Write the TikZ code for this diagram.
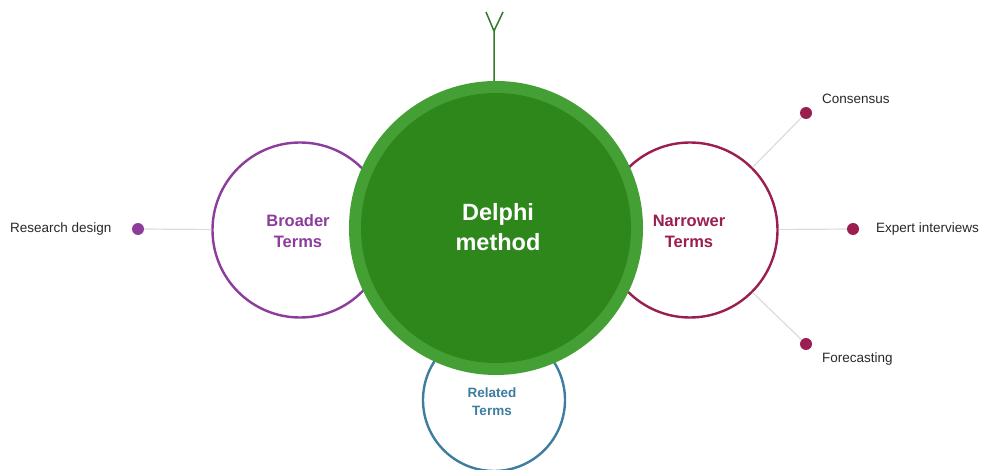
\documentclass[tikz,border=0pt]{standalone}
\usepackage{fontspec}
\setmainfont{Liberation Sans}
\definecolor{gout}{RGB}{68,160,52}
\definecolor{gin}{RGB}{46,135,27}
\definecolor{antc}{RGB}{50,120,45}
\definecolor{purp}{RGB}{140,60,155}
\definecolor{crim}{RGB}{155,30,80}
\definecolor{blu}{RGB}{60,125,160}
\definecolor{conn}{RGB}{220,220,220}
\definecolor{lbl}{RGB}{40,40,40}
\begin{document}
\begin{tikzpicture}[x=1pt,y=-1pt,
  ring/.style={circle,draw,line width=2.4pt,fill=white,align=center,font=\bfseries,inner sep=0pt},
  dot/.style={circle,inner sep=0pt,minimum size=12pt},
  lab/.style={text=lbl,font=\fontsize{13.5}{16}\selectfont,inner sep=0pt},
  link/.style={draw=conn,line width=1.2pt}]
\useasboundingbox (0,0) rectangle (983,470);
% dots
\node[dot,fill=purp] (rd) at (138,229) {};
\node[dot,fill=crim] (cons) at (806,113) {};
\node[dot,fill=crim] (exp) at (853,229) {};
\node[dot,fill=crim] (fore) at (806,344) {};
% labels
\node[lab,anchor=west] (rdl) at (10,229) {Research design};
\node[lab,anchor=west] (consl) at (822,99) {Consensus};
\node[lab,anchor=west] (expl) at (876,229) {Expert interviews};
\node[lab,anchor=west] (forel) at (822,359) {Forecasting};
% circles
\node[ring,draw=blu,minimum size=142pt] (rel) at (494,400) {};
\node[ring,draw=purp,minimum size=175pt] (broad) at (300,230) {};
\node[ring,draw=crim,minimum size=175pt] (narr) at (690,230) {};
% connectors
\draw[link] (rd) -- (broad);
\draw[link] (narr) -- (exp);
\draw[link] (narr.45) -- (cons);
\draw[link] (narr.-45) -- (fore);
% texts in circles
\node[text=blu,font=\bfseries\fontsize{13.5}{18}\selectfont,align=center] (relt) at (492,402) {Related\\Terms};
\node[text=purp,font=\bfseries\fontsize{16.5}{21}\selectfont,align=center] (broadt) at (298,231) {Broader\\Terms};
\node[text=crim,font=\bfseries\fontsize{16.5}{21}\selectfont,align=center] (narrt) at (689,231) {Narrower\\Terms};
% green circle
\node[circle,fill=gout,minimum size=294pt,inner sep=0pt] (main) at (496,228) {};
\node[circle,fill=gin,minimum size=270pt,inner sep=0pt] (maininner) at (496,228) {};
\node[text=white,font=\bfseries\fontsize{23.5}{30}\selectfont,align=center] (mt) at (498,227) {Delphi\\method};
% antenna
\coordinate (a0) at (494,31);
\coordinate (al) at (486,12);
\coordinate (ar) at (503,12);
\draw[antc,line width=1.5pt] (main.north -| a0) -- (a0) -- (al);
\draw[antc,line width=1.5pt] (a0) -- (ar);
\end{tikzpicture}
\end{document}
